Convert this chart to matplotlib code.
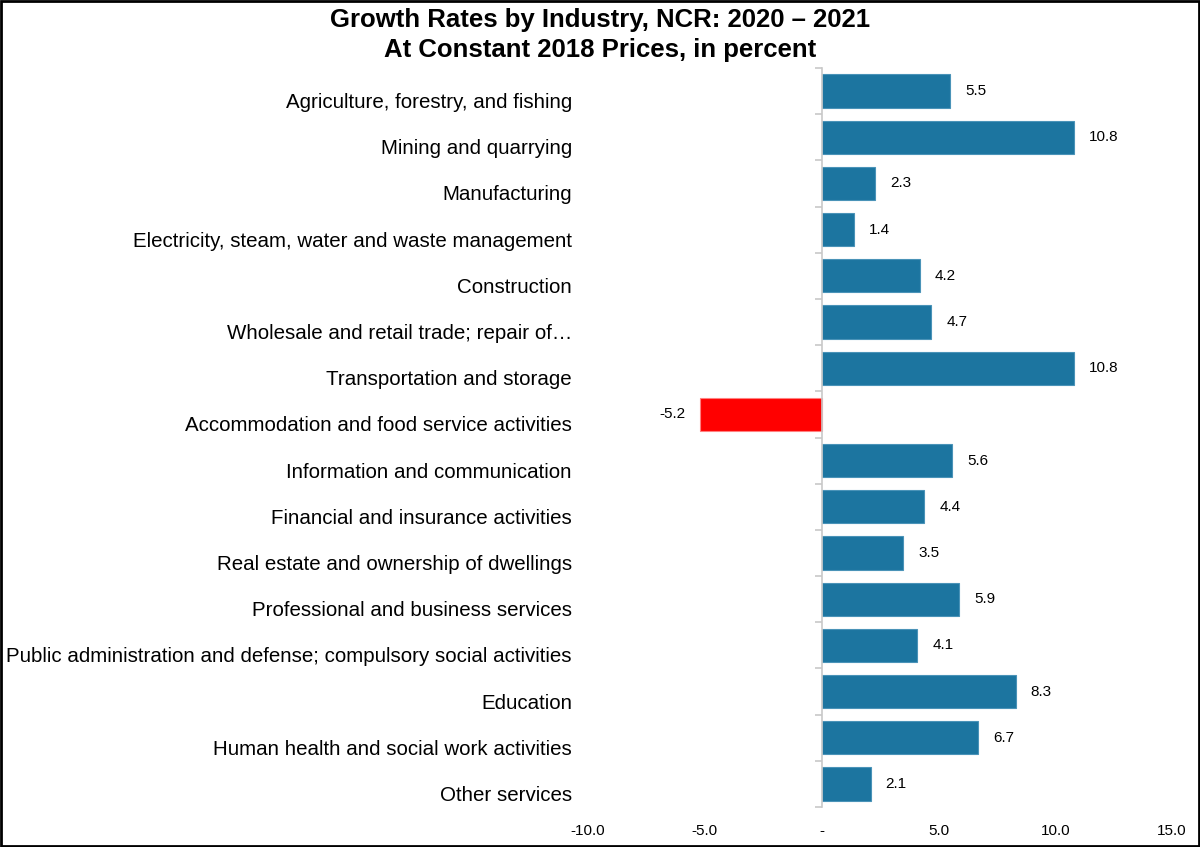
import matplotlib
matplotlib.use("Agg")
import matplotlib.pyplot as plt
import matplotlib.transforms as mtransforms
from matplotlib.ticker import FuncFormatter, FixedLocator
import numpy as np

plt.rcParams['font.family'] = ['Liberation Sans', 'DejaVu Sans']

categories = [
    "Agriculture, forestry, and fishing",
    "Mining and quarrying",
    "Manufacturing",
    "Electricity, steam, water and waste management",
    "Construction",
    "Wholesale and retail trade; repair of…",
    "Transportation and storage",
    "Accommodation and food service activities",
    "Information and communication",
    "Financial and insurance activities",
    "Real estate and ownership of dwellings",
    "Professional and business services",
    "Public administration and defense; compulsory social activities",
    "Education",
    "Human health and social work activities",
    "Other services",
]
values = [5.5, 10.8, 2.3, 1.4, 4.2, 4.7, 10.8, -5.2, 5.6, 4.4, 3.5, 5.9, 4.1, 8.3, 6.7, 2.1]
xticks = [-10, -5, 0, 5, 10, 15]

title = "Growth Rates by Industry, NCR: 2020 – 2021\nAt Constant 2018 Prices, in percent"

fig = plt.figure(figsize=(12, 8.47), dpi=100)
ax = fig.add_axes([0.49, 0.0472, 0.9767 - 0.49, 0.9197 - 0.0472])

n = len(categories)
y = np.arange(n)
colors = ['#FF0000' if v < 0 else '#1C75A0' for v in values]
edges = ['#FF8080' if v < 0 else '#4A93B8' for v in values]
ax.barh(y, values, height=0.72, color=colors, edgecolor=edges, linewidth=0.8, zorder=2)

ax.set_xlim(xticks[0], xticks[-1])
ax.set_ylim(n - 0.5, -0.5)

# zero axis line with ticks at category boundaries
for s in ['top', 'right', 'bottom']:
    ax.spines[s].set_visible(False)
ax.spines['left'].set_position(('data', 0))
ax.spines['left'].set_color('#C8C8C8')
ax.spines['left'].set_linewidth(1.2)
ax.yaxis.set_major_locator(FixedLocator(list(y)))
ax.yaxis.set_minor_locator(FixedLocator(list(np.arange(n + 1) - 0.5)))
ax.tick_params(axis='y', which='major', length=0, labelleft=False)
ax.tick_params(axis='y', which='minor', length=5, color='#C8C8C8', width=1.2, direction='out')

# category labels at left edge of plot
off = mtransforms.ScaledTranslation(-16 / 100, -11.5 / 100, fig.dpi_scale_trans)
trans = mtransforms.blended_transform_factory(ax.transAxes, ax.transData) + off
for yi, c in zip(y, categories):
    ax.text(0, yi, c, transform=trans, ha='right', va='center', fontsize=14.8, color='black')

# x ticks
ax.set_xticks(xticks)
ax.xaxis.set_major_formatter(FuncFormatter(lambda v, p: '-' if v == 0 else f'{v:.1f}'))
ax.tick_params(axis='x', length=0, pad=12, labelsize=11)

# value labels
for yi, v in zip(y, values):
    ax.annotate(f'{v:.1f}', xy=(v, yi), xytext=(15 if v >= 0 else -15, 0),
                textcoords='offset pixels', ha='left' if v >= 0 else 'right',
                va='center', fontsize=11, color='black')

fig.text(0.5, 1 - 35 / 847, title, ha='center', va='center', fontsize=18.5, fontweight='bold',
         linespacing=1.33)

# figure border
fig.patches.append(plt.Rectangle((0.001, 0.001), 0.998, 0.998, transform=fig.transFigure,
                                 fill=False, edgecolor='black', linewidth=2))

fig.savefig('out.png', dpi=100)
